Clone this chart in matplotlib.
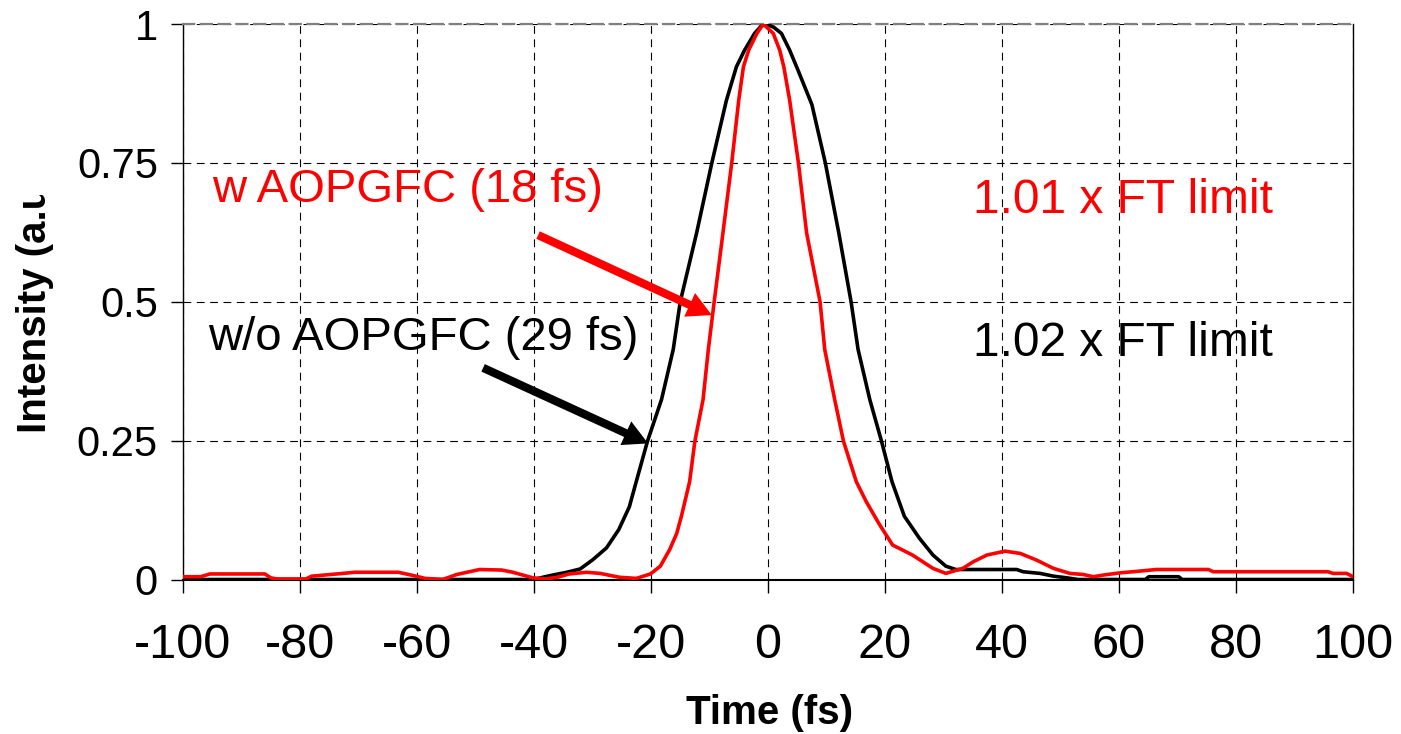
import matplotlib
matplotlib.use("Agg")
import matplotlib.pyplot as plt
from matplotlib.transforms import Bbox, TransformedBbox

# ---- data ----
time_wo = [-100, -40, -38.5, -36.8, -34.4, -32.1, -29.9, -27.6, -25.5, -23.7, -22.5,
           -20.6, -18.2, -16.2, -15.0, -12.2, -9.6, -7.1, -5.4, -4.0, -2.3, -1.2, -0.3,
           1.0, 2.3, 3.7, 5.2, 7.5, 9.8, 12.1, 14.2, 15.4, 17.4, 19.4, 21.2, 23.3, 25.9,
           28.2, 30.4, 32.1, 42.5, 43.6, 46.5, 48.8, 51.1, 53.0, 64.5, 65.1, 70.2,
           70.8, 100]
intensity_wo = [0.0, 0.0, 0.004, 0.008, 0.013, 0.019, 0.036, 0.057, 0.09, 0.131, 0.177,
                0.249, 0.324, 0.414, 0.5, 0.624, 0.75, 0.863, 0.923, 0.953, 0.983, 0.996, 1.0,
                0.994, 0.983, 0.953, 0.915, 0.855, 0.75, 0.624, 0.5, 0.414, 0.324, 0.249, 0.176,
                0.114, 0.074, 0.044, 0.024, 0.018, 0.018, 0.014, 0.011, 0.006, 0.003,
                0.0, 0.0, 0.005, 0.005, 0.0, 0.0]

time_w = [-100, -97, -95.4, -86, -85, -84, -79, -78, -73.7, -70.6, -63.2, -61, -58.6,
          -55.6, -53.2, -49.3, -45.5, -43.6, -40.2, -38, -36, -34, -31, -28.7, -25.4,
          -22.5, -20.1, -18.4, -16.8, -15.6, -14.8, -13.4, -12.5, -11.1, -10.2, -9.2,
          -7.7, -6.2, -5.0, -4.2, -3.3, -1.9, -0.8, 0.9, 2.0, 2.7, 3.7, 5.2, 6.6,
          8.9, 9.7, 11.4, 12.9, 15.1, 16.8, 19.0, 21.3, 24.7, 28.2, 30.4, 33.3, 35.1,
          37.4, 40.5, 43.1, 45.9, 48.8, 51.6, 53.9, 55.6, 57.3, 60.2, 62.4, 66.4,
          75.3, 76.1, 95.7, 96.6, 98.9, 100]
intensity_w = [0.005, 0.005, 0.01, 0.01, 0.003, 0.001, 0.001, 0.006, 0.01, 0.013, 0.013,
               0.008, 0.002, 0.0, 0.009, 0.018, 0.017, 0.013, 0.003, 0.001, 0.004, 0.01,
               0.013, 0.011, 0.004, 0.002, 0.01, 0.024, 0.054, 0.083, 0.114, 0.176,
               0.249, 0.324, 0.414, 0.5, 0.624, 0.75, 0.863, 0.923, 0.953, 0.983, 1.0,
               0.983, 0.953, 0.923, 0.863, 0.75, 0.624, 0.5, 0.414, 0.324, 0.249,
               0.176, 0.14, 0.1, 0.062, 0.044, 0.02, 0.011, 0.02, 0.032, 0.044, 0.051,
               0.047, 0.035, 0.02, 0.011, 0.009, 0.005, 0.008, 0.012, 0.014, 0.018,
               0.018, 0.014, 0.014, 0.011, 0.011, 0.005]

x_ticks = [-100, -80, -60, -40, -20, 0, 20, 40, 60, 80, 100]
y_ticks = [0, 0.25, 0.5, 0.75, 1]
y_tick_labels = ["0", "0.25", "0.5", "0.75", "1"]

label_w = "w AOPGFC (18 fs)"
label_wo = "w/o AOPGFC (29 fs)"
ft_w = "1.01 x FT limit"
ft_wo = "1.02 x FT limit"
arrow_w = ((-39.3, 0.62), (-9.6, 0.476))
arrow_wo = ((-48.7, 0.381), (-20.5, 0.245))

# ---- figure ----
W, H = 1401, 734
fig = plt.figure(figsize=(W / 100, H / 100), dpi=100)
ax = fig.add_axes([183 / W, 154.5 / H, (1353 - 183) / W, (579.5 - 24) / H])

ax.plot(time_wo, intensity_wo, color="black", lw=2.6, zorder=3)
ax.plot(time_w, intensity_w, color="#ff0000", lw=2.6, zorder=4)

ax.set_xlim(-100, 100)
ax.set_ylim(0, 1)
ax.set_xticks(x_ticks)
ax.set_xticklabels([str(v) for v in x_ticks], family="Liberation Sans", fontsize=35)
ax.set_yticks(y_ticks)
ax.set_yticklabels(y_tick_labels, family="Liberation Sans", fontsize=30)
ax.tick_params(axis="x", direction="out", length=9, width=1, pad=22)
ax.tick_params(axis="y", direction="out", length=9, width=1, pad=9)

ax.grid(True, color="black", lw=0.8, linestyle=(0, (7, 5)))
ax.set_axisbelow(True)
ax.spines["top"].set_color("gray")
ax.spines["top"].set_linestyle((0, (5, 3)))
ax.spines["top"].set_linewidth(1.6)
ax.spines["right"].set_linewidth(1.0)
ax.spines["left"].set_linewidth(1.0)
ax.spines["bottom"].set_linewidth(1.5)

# annotations
ax.text(-95, 0.68, label_w, color="#ff0000", fontsize=34, family="Liberation Sans",
        va="baseline", ha="left")
ax.text(-95.7, 0.414, label_wo, color="black", fontsize=34, family="Liberation Sans",
        va="baseline", ha="left")
ax.text(35, 0.66, ft_w, color="#ff0000", fontsize=34.5, family="Liberation Sans",
        va="baseline", ha="left")
ax.text(35, 0.403, ft_wo, color="black", fontsize=34.5, family="Liberation Sans",
        va="baseline", ha="left")

for (start, tip), col in ((arrow_w, "#ff0000"), (arrow_wo, "black")):
    ax.annotate("", xy=tip, xytext=start,
                arrowprops=dict(arrowstyle="simple,head_length=0.8,head_width=0.85,tail_width=0.27",
                                color=col, lw=0, shrinkA=0, shrinkB=0,
                                mutation_scale=22), zorder=5)

# axis labels
fig.text(770 / W, 10 / H, "Time (fs)", fontsize=29, fontweight="bold",
         family="Liberation Sans", ha="center", va="baseline")
yl = fig.text(46 / W, (H - 433) / H, "Intensity (a.u.)", fontsize=29, fontweight="bold",
              family="Liberation Sans", rotation=90, rotation_mode="anchor",
              ha="left", va="baseline", clip_on=True)
yl.set_clip_box(TransformedBbox(Bbox([[0, 0], [183 / W, (H - 195) / H]]), fig.transFigure))

fig.savefig("out.png", dpi=100, facecolor="white")
